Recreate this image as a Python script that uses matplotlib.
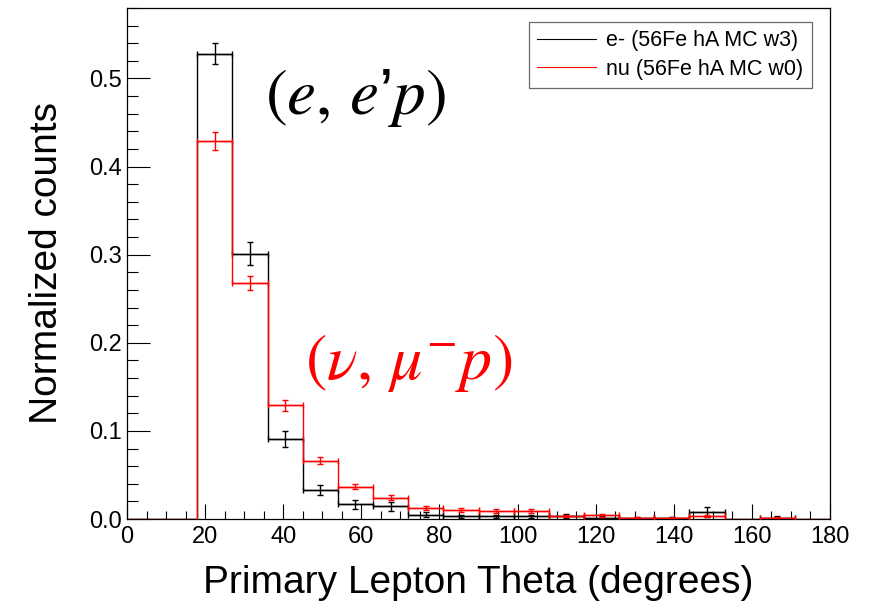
import numpy as np
import matplotlib
matplotlib.use("Agg")
import matplotlib.pyplot as plt
from matplotlib.ticker import MultipleLocator, FormatStrFormatter

# ---- data ----
bin_edges = np.arange(0, 181, 9)
e_vals = [0, 0, 0.528, 0.301, 0.091, 0.033, 0.0168, 0.0146, 0.0048, 0.003,
          0.003, 0.003, 0.0033, 0.0015, 0.001, 0.001, 0.0078, 0, 0.0017, 0]
e_errs = [0, 0, 0.012, 0.013, 0.009, 0.006, 0.005, 0.005, 0.003, 0.002,
          0.002, 0.002, 0.002, 0.0015, 0.001, 0.001, 0.006, 0, 0.0017, 0]
nu_vals = [0, 0, 0.429, 0.268, 0.129, 0.066, 0.0368, 0.0244, 0.0123, 0.010,
           0.009, 0.009, 0.0035, 0.004, 0.0017, 0.0015, 0.0035, 0, 0.0015, 0]
nu_errs = [0, 0, 0.010, 0.008, 0.006, 0.004, 0.003, 0.0026, 0.002, 0.002,
           0.002, 0.002, 0.001, 0.0012, 0.0008, 0.0008, 0.0012, 0, 0.0008, 0]
e_label = "e- (56Fe hA MC w3)"
nu_label = "nu (56Fe hA MC w0)"
x_title = "Primary Lepton Theta (degrees)"
y_title = "Normalized counts"

plt.rcParams['font.family'] = ['Liberation Sans', 'DejaVu Sans']
plt.rcParams['mathtext.fontset'] = 'stix'

fig = plt.figure(figsize=(8.71, 6.02), dpi=100)
ax = fig.add_axes([127/871, 1-519/602, (830-127)/871, (519-8)/602])

edges = np.array(bin_edges, dtype=float)
centers = 0.5 * (edges[:-1] + edges[1:])
halfw = 0.5 * (edges[1:] - edges[:-1])

def draw(vals, errs, color, label, z):
    vals = np.array(vals); errs = np.array(errs)
    ax.stairs(vals, edges, color=color, lw=1.0, zorder=z, label=label, baseline=0)
    m = vals > 0
    ax.errorbar(centers[m], vals[m], yerr=errs[m], xerr=halfw[m], fmt='none',
                ecolor=color, elinewidth=1.0, capsize=2.5, capthick=1.0, zorder=z)

draw(e_vals, e_errs, 'black', e_label, 2)
draw(nu_vals, nu_errs, '#ff0000', nu_label, 3)

ax.set_xlim(0, 180)
ax.set_ylim(0, 0.58)
ax.xaxis.set_major_locator(MultipleLocator(20))
ax.xaxis.set_minor_locator(MultipleLocator(5))
ax.yaxis.set_major_locator(MultipleLocator(0.1))
ax.yaxis.set_minor_locator(MultipleLocator(0.02))
ax.yaxis.set_major_formatter(FormatStrFormatter('%.1f'))
ax.tick_params(which='both', direction='in', top=False, right=False, width=0.8,
               labelsize=17)
ax.tick_params(axis='x', which='major', length=11, pad=5)
ax.tick_params(axis='x', which='minor', length=6)
ax.tick_params(axis='y', which='major', length=16.5, pad=4)
ax.tick_params(axis='y', which='minor', length=8)
for s in ax.spines.values():
    s.set_linewidth(0.9)

ax.set_xlabel(x_title, fontsize=28, labelpad=12)
ax.set_ylabel(y_title, fontsize=28, labelpad=17)

leg = ax.legend(loc='upper right', bbox_to_anchor=(0.9744, 0.9732),
                borderaxespad=0, fontsize=15.5, frameon=True, fancybox=False,
                handlelength=2.7, handletextpad=0.5, borderpad=0.4,
                labelspacing=0.35)
leg.get_frame().set_edgecolor('#444444')
leg.get_frame().set_linewidth(0.9)
for h in leg.get_lines():
    h.set_linewidth(0.8)

ax.text(58.5, 0.478, r"$(e,\, e$’$p)$", fontsize=47, color='black',
        ha='center', va='center')
ax.text(72, 0.1775, r"$(\nu,\, \mu^{-}p)$", fontsize=46, color='#ff0000',
        ha='center', va='center')

fig.savefig("out.png", dpi=100)
